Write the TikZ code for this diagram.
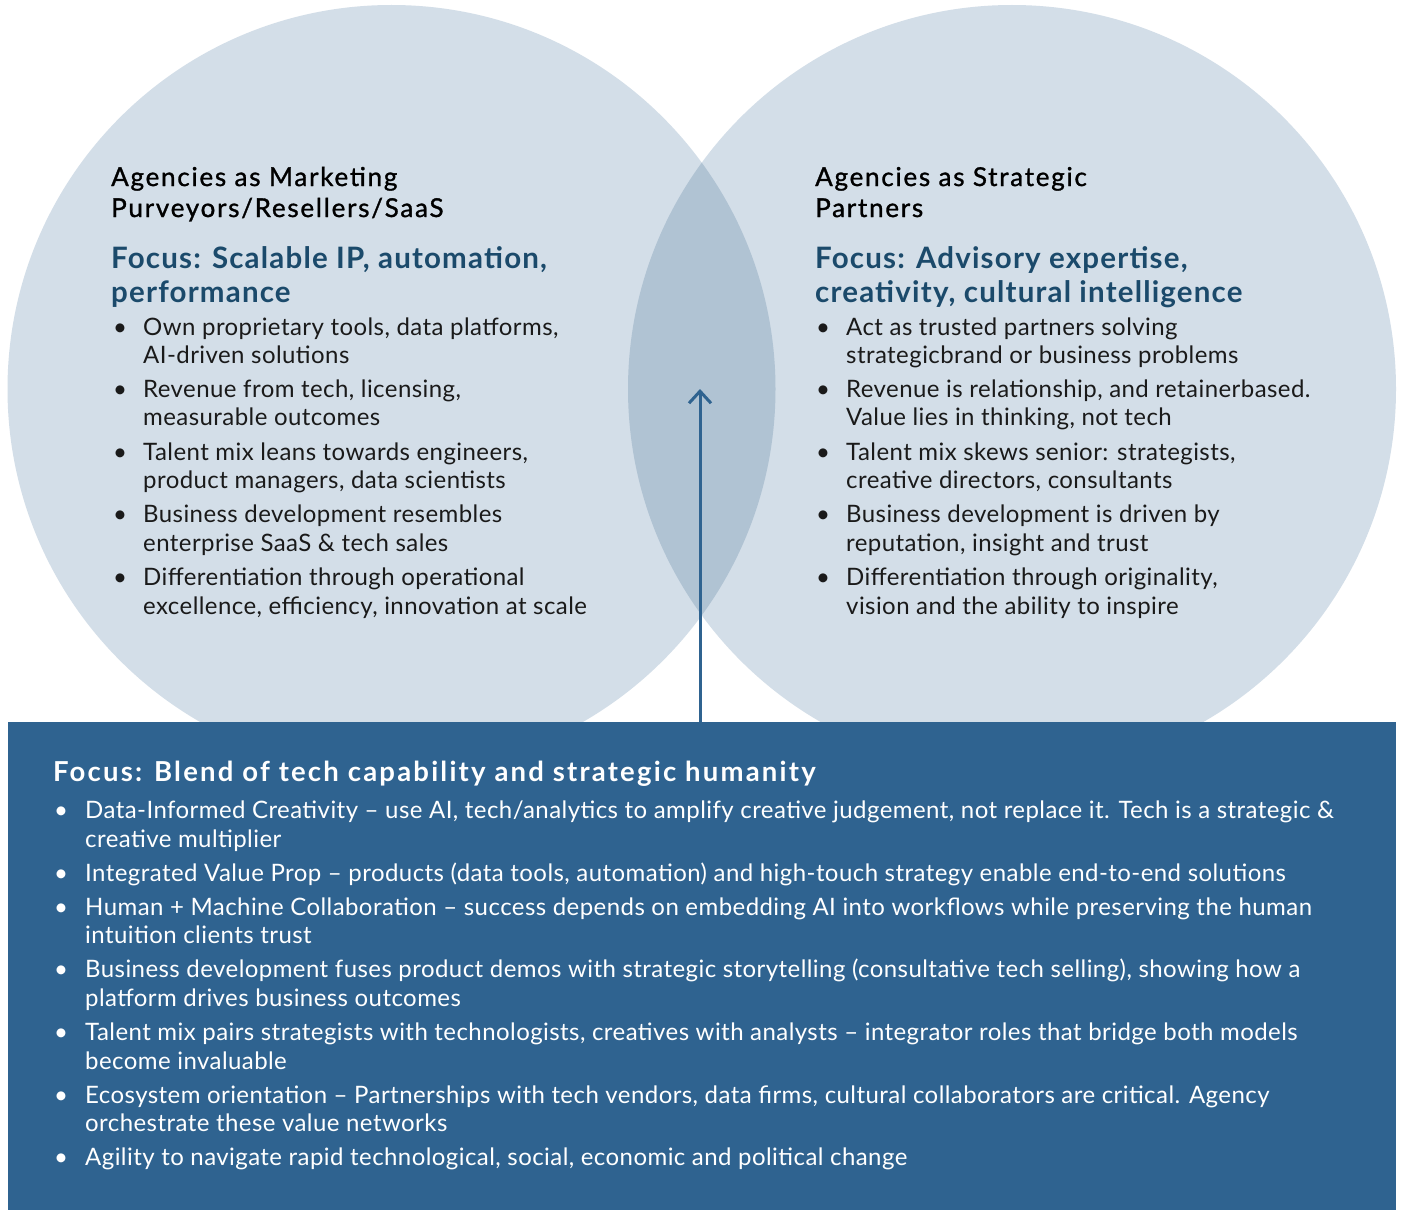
\documentclass[tikz,border=0pt]{standalone}
\usepackage{fontspec}
\usetikzlibrary{arrows.meta}
\setmainfont{Lato}
\newfontfamily\bodyfam{Lato}[LetterSpace=1.8]
\newfontfamily\medfam{Lato}[LetterSpace=6.7, BoldFont=Lato, BoldFeatures={FakeBold=1.2}]
\newfontfamily\focfam{Lato}[LetterSpace=4]
\newfontfamily\bfocfam{Lato}[LetterSpace=8]
\definecolor{circfill}{HTML}{D3DEE8}
\definecolor{lensfill}{HTML}{B0C3D3}
\definecolor{boxfill}{HTML}{2F6390}
\definecolor{headblue}{HTML}{1B4A6B}
\definecolor{bodytext}{HTML}{1A1A1A}
\begin{document}
\begin{tikzpicture}[x=1pt,y=-1pt,
  body/.style={font=\bodyfam\fontsize{24}{28}\selectfont, anchor=base west, inner sep=0pt, text=bodytext},
  wbody/.style={body, text=white},
  dotm/.style={font=\bodyfam\fontsize{24}{28}\selectfont, anchor=base, inner sep=0pt, text=bodytext},
  wdotm/.style={dotm, text=white},
  head/.style={font=\medfam\bfseries\fontsize{26}{30}\selectfont, anchor=base west, inner sep=0pt, text=black},
  focus/.style={font=\focfam\bfseries\fontsize{29.5}{34}\selectfont, anchor=base west, inner sep=0pt, text=headblue},
  wfocus/.style={font=\bfocfam\bfseries\fontsize{27.5}{32}\selectfont, anchor=base west, inner sep=0pt, text=white},
  boxstyle/.style={fill=boxfill, draw=none, inner sep=0pt, anchor=north west, minimum width=1388pt, minimum height=488pt},
  arrowline/.style={draw=boxfill, line width=3pt, -{Straight Barb[length=12pt,width=22pt,line width=3pt]}}
]
\useasboundingbox (0,0) rectangle (1406,1220);
\fill[white] (0,0) rectangle (1406,1220);
% circles
\fill[circfill] (391.5,389) circle[radius=384];
\fill[circfill] (1012,389) circle[radius=384];
\begin{scope}
  \clip (391.5,389) circle[radius=384];
  \fill[lensfill] (1012,389) circle[radius=384];
\end{scope}
% bottom box
\node[boxstyle] (box) at (8,722) {};
\coordinate (tip) at (700,389);
\draw[arrowline] (box.north -| tip) -- (tip);

% left circle text
\node[head] (lh1) at (111,186) {Agencies as Marketing};
\node[head] (lh2) at (111,217) {Purveyors/Resellers/SaaS};
\node[focus] (lf1) at (111,268) {Focus: Scalable IP, automation,};
\node[focus] (lf2) at (111,302) {performance};
\node[dotm] (ld1) at (120,335) {•};
\node[body] (l1a) at (143,335) {Own proprietary tools, data platforms,};
\node[body] (l1b) at (143,363) {AI-driven solutions};
\node[dotm] (ld2) at (120,397) {•};
\node[body] (l2a) at (143,397) {Revenue from tech, licensing,};
\node[body] (l2b) at (143,425) {measurable outcomes};
\node[dotm] (ld3) at (120,460) {•};
\node[body] (l3a) at (143,460) {Talent mix leans towards engineers,};
\node[body] (l3b) at (143,488) {product managers, data scientists};
\node[dotm] (ld4) at (120,522) {•};
\node[body] (l4a) at (143,522) {Business development resembles};
\node[body] (l4b) at (143,551) {enterprise SaaS \& tech sales};
\node[dotm] (ld5) at (120,585) {•};
\node[body] (l5a) at (143,585) {Differentiation through operational};
\node[body] (l5b) at (143,614) {excellence, efficiency, innovation at scale};

% right circle text
\node[head] (rh1) at (815,186) {Agencies as Strategic};
\node[head] (rh2) at (815,217) {Partners};
\node[focus] (rf1) at (815,268) {Focus: Advisory expertise,};
\node[focus] (rf2) at (815,302) {creativity, cultural intelligence};
\node[dotm] (rd1) at (823,335) {•};
\node[body] (r1a) at (846,335) {Act as trusted partners solving};
\node[body] (r1b) at (846,363) {strategicbrand or business problems};
\node[dotm] (rd2) at (823,397) {•};
\node[body] (r2a) at (846,397) {Revenue is relationship, and retainerbased.};
\node[body] (r2b) at (846,425) {Value lies in thinking, not tech};
\node[dotm] (rd3) at (823,460) {•};
\node[body] (r3a) at (846,460) {Talent mix skews senior: strategists,};
\node[body] (r3b) at (846,488) {creative directors, consultants};
\node[dotm] (rd4) at (823,522) {•};
\node[body] (r4a) at (846,522) {Business development is driven by};
\node[body] (r4b) at (846,551) {reputation, insight and trust};
\node[dotm] (rd5) at (823,585) {•};
\node[body] (r5a) at (846,585) {Differentiation through originality,};
\node[body] (r5b) at (846,614) {vision and the ability to inspire};

% box text
\node[wfocus] (bh) at (53,781) {Focus: Blend of tech capability and strategic humanity};
\node[wdotm] (bd1) at (61,818) {•};
\node[wbody] (b1a) at (85,818) {Data-Informed Creativity – use AI, tech/analytics to amplify creative judgement, not replace it. Tech is a strategic \&};
\node[wbody] (b1b) at (85,847) {creative multiplier};
\node[wdotm] (bd2) at (61,881) {•};
\node[wbody] (b2a) at (85,881) {Integrated Value Prop – products (data tools, automation) and high-touch strategy enable end-to-end solutions};
\node[wdotm] (bd3) at (61,915) {•};
\node[wbody] (b3a) at (85,915) {Human + Machine Collaboration – success depends on embedding AI into workflows while preserving the human};
\node[wbody] (b3b) at (85,943) {intuition clients trust};
\node[wdotm] (bd4) at (61,977) {•};
\node[wbody] (b4a) at (85,977) {Business development fuses product demos with strategic storytelling (consultative tech selling), showing how a};
\node[wbody] (b4b) at (85,1006) {platform drives business outcomes};
\node[wdotm] (bd5) at (61,1040) {•};
\node[wbody] (b5a) at (85,1040) {Talent mix pairs strategists with technologists, creatives with analysts – integrator roles that bridge both models};
\node[wbody] (b5b) at (85,1069) {become invaluable};
\node[wdotm] (bd6) at (61,1103) {•};
\node[wbody] (b6a) at (85,1103) {Ecosystem orientation – Partnerships with tech vendors, data firms, cultural collaborators are critical. Agency};
\node[wbody] (b6b) at (85,1131) {orchestrate these value networks};
\node[wdotm] (bd7) at (61,1165) {•};
\node[wbody] (b7a) at (85,1165) {Agility to navigate rapid technological, social, economic and political change};
\end{tikzpicture}
\end{document}
